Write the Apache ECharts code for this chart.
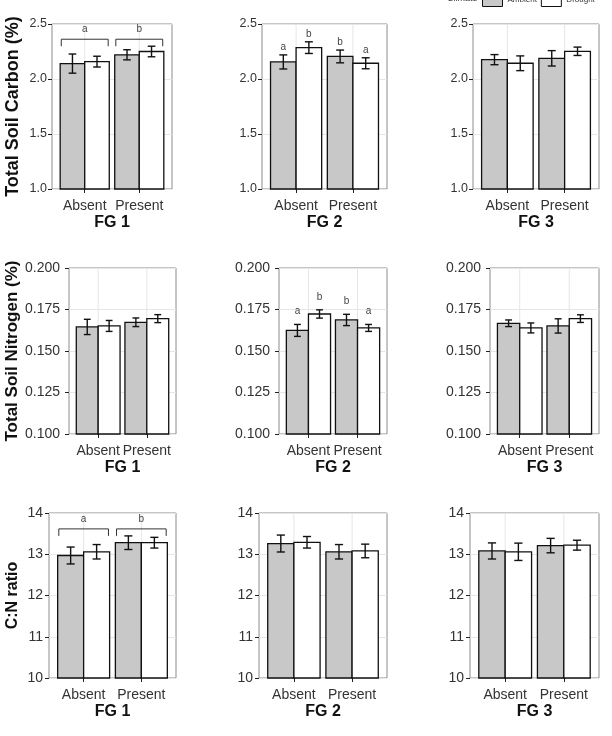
<!DOCTYPE html>
<html>
<head>
<meta charset="utf-8">
<script src="https://cdn.jsdelivr.net/npm/echarts@6/dist/echarts.min.js"></script>
<style>html,body{margin:0;padding:0;background:#fff;}#c{width:612px;height:736px;}</style>
</head>
<body>
<div id="c"></div>
<script>
// ---- data ----
const groups = ['Absent', 'Present'];
const fgNames = ['FG 1', 'FG 2', 'FG 3'];
const climates = ['Ambient', 'Drought'];

// [FG][group]
const carbonAmbient    = [[2.140, 2.220], [2.155, 2.205], [2.176, 2.188]];
const carbonAmbientSE  = [[0.087, 0.046], [0.064, 0.058], [0.046, 0.070]];
const carbonDrought    = [[2.158, 2.250], [2.285, 2.143], [2.143, 2.252]];
const carbonDroughtSE  = [[0.049, 0.048], [0.053, 0.050], [0.067, 0.038]];

const nitrogenAmbient   = [[0.1645, 0.1673], [0.1624, 0.1687], [0.1667, 0.1651]];
const nitrogenAmbientSE = [[0.0046, 0.0026], [0.0036, 0.0034], [0.0020, 0.0043]];
const nitrogenDrought   = [[0.1651, 0.1695], [0.1723, 0.1639], [0.1639, 0.1695]];
const nitrogenDroughtSE = [[0.0033, 0.0024], [0.0025, 0.0021], [0.0030, 0.0023]];

const cnAmbient   = [[12.97, 13.28], [13.26, 13.06], [13.08, 13.21]];
const cnAmbientSE = [[0.205, 0.165], [0.205, 0.175], [0.195, 0.175]];
const cnDrought   = [[13.06, 13.28], [13.29, 13.08], [13.06, 13.22]];
const cnDroughtSE = [[0.175, 0.130], [0.140, 0.165], [0.210, 0.120]];

// significance letters
const carbonGroupLetters = [['a', 'b'], null, null];              // bracket per group
const carbonBarLetters   = [null, [['a', 'b'], ['b', 'a']], null]; // [group][climate]
const nitrogenBarLetters = [null, [['a', 'b'], ['b', 'a']], null];
const cnGroupLetters     = [['a', 'b'], null, null];

const carbonTicks   = [1.0, 2.5, 0.5];
const nitrogenTicks = [0.100, 0.200, 0.025];
const cnTicks       = [10, 14, 1];

// ---- layout / style ----
const rowDefs = [
  { title: 'Total Soil Carbon (%)', ticks: carbonTicks, digits: 1,
    amb: carbonAmbient, ambSE: carbonAmbientSE, dr: carbonDrought, drSE: carbonDroughtSE,
    groupLetters: carbonGroupLetters, barLetters: carbonBarLetters,
    top: 24, height: 165, lefts: [52, 262, 473], widths: [120, 125, 126],
    nameGap: 30, titleSize: 18, labelSize: 12.5, labelMargin: 5, letterOff: 8 },
  { title: 'Total Soil Nitrogen (%)', ticks: nitrogenTicks, digits: 3,
    amb: nitrogenAmbient, ambSE: nitrogenAmbientSE, dr: nitrogenDrought, drSE: nitrogenDroughtSE,
    groupLetters: [null, null, null], barLetters: nitrogenBarLetters,
    top: 268, height: 166, lefts: [69, 279, 490], widths: [107, 108, 109],
    nameGap: 47, titleSize: 17, labelSize: 14, labelMargin: 9, letterOff: 13 },
  { title: 'C:N ratio', ticks: cnTicks, digits: 0,
    amb: cnAmbient, ambSE: cnAmbientSE, dr: cnDrought, drSE: cnDroughtSE,
    groupLetters: cnGroupLetters, barLetters: [null, null, null],
    top: 513, height: 165, lefts: [49, 259, 470], widths: [127, 128, 129],
    nameGap: 28, titleSize: 16, labelSize: 14, labelMargin: 6, letterOff: 8 }
];

const FONT = 'Liberation Sans, Arial, sans-serif';
const fills = ['#c8c8c8', '#ffffff'];
const HALF = 0.225;
const grids = [], xAxes = [], yAxes = [], series = [];

rowDefs.forEach((row, r) => {
  const yMin = row.ticks[0], yMax = row.ticks[1];
  for (let c = 0; c < 3; c++) {
    const gi = r * 3 + c;
    grids.push({ left: row.lefts[c], top: row.top, width: row.widths[c], height: row.height,
      show: true, borderColor: '#8c8c8c', borderWidth: 1, backgroundColor: 'transparent' });
    xAxes.push({
      type: 'value', gridIndex: gi, min: 0.4, max: 2.6,
      axisLine: { show: false },
      axisTick: { show: true, customValues: [1, 2], length: 4, lineStyle: { color: '#222', width: 1 } },
      axisLabel: { customValues: [1, 2], formatter: v => groups[Math.round(v) - 1], fontFamily: FONT, fontSize: 14, color: '#333', margin: 10 },
      splitLine: { show: false },
      name: fgNames[c], nameLocation: 'middle', nameGap: 26,
      nameTextStyle: { fontFamily: FONT, fontWeight: 'bold', fontSize: 16, color: '#111' }
    });
    yAxes.push({
      type: 'value', gridIndex: gi, min: yMin, max: yMax, interval: row.ticks[2],
      axisLine: { show: false },
      axisTick: { show: true, length: 4, lineStyle: { color: '#222', width: 1 } },
      axisLabel: { formatter: v => v.toFixed(row.digits), fontFamily: FONT, fontSize: row.labelSize, color: '#333', margin: row.labelMargin },
      splitLine: { show: true, lineStyle: { color: '#e6e6e6', width: 1 } },
      name: c === 0 ? row.title : '', nameLocation: 'middle', nameGap: row.nameGap, nameRotate: 90,
      nameTextStyle: { fontFamily: FONT, fontWeight: 'bold', fontSize: row.titleSize, color: '#111' }
    });

    // vertical grid lines at category positions
    series.push({
      type: 'custom', xAxisIndex: gi, yAxisIndex: gi, z: 1, silent: true,
      data: [[1], [2]],
      renderItem: (p, api) => {
        const a = api.coord([api.value(0), yMin]), b = api.coord([api.value(0), yMax]);
        return { type: 'line', shape: { x1: a[0], y1: a[1], x2: b[0], y2: b[1] }, style: { stroke: '#e6e6e6', lineWidth: 1 } };
      }
    });

    const means = [row.amb[c], row.dr[c]];
    const ses = [row.ambSE[c], row.drSE[c]];
    const barL = row.barLetters[c];
    for (let k = 0; k < 2; k++) {
      const data = groups.map((g, j) => [j + 1, means[k][j], ses[k][j], k, barL ? barL[j][k] : '']);
      series.push({
        type: 'custom', name: climates[k], xAxisIndex: gi, yAxisIndex: gi, z: 3,
        itemStyle: { color: fills[k], borderColor: '#111', borderWidth: 1 },
        data: data,
        renderItem: (p, api) => {
          const x = api.value(0), m = api.value(1), se = api.value(2), kk = api.value(3);
          const cx = x + (kk === 0 ? -HALF : HALF);
          const tl = api.coord([cx - HALF, m]), br = api.coord([cx + HALF, yMin]);
          const top = api.coord([cx, m + se]), bot = api.coord([cx, m - se]);
          const capW = api.size([0.07, 0])[0];
          const children = [
            { type: 'rect', shape: { x: tl[0], y: tl[1], width: br[0] - tl[0], height: br[1] - tl[1] },
              style: { fill: fills[kk], stroke: '#111', lineWidth: 1.3 } },
            { type: 'line', shape: { x1: top[0], y1: top[1], x2: bot[0], y2: bot[1] }, style: { stroke: '#111', lineWidth: 1.4 } },
            { type: 'line', shape: { x1: top[0] - capW, y1: top[1], x2: top[0] + capW, y2: top[1] }, style: { stroke: '#111', lineWidth: 1.4 } },
            { type: 'line', shape: { x1: bot[0] - capW, y1: bot[1], x2: bot[0] + capW, y2: bot[1] }, style: { stroke: '#111', lineWidth: 1.4 } }
          ];
          const letter = data[p.dataIndex][4];
          if (letter) {
            children.push({ type: 'text', style: { text: letter, x: top[0], y: top[1] - row.letterOff,
              align: 'center', verticalAlign: 'middle', fill: '#444', fontSize: 10, fontFamily: FONT } });
          }
          return { type: 'group', children };
        }
      });
    }

    // brackets for group-level letters
    const gl = row.groupLetters[c];
    if (gl) {
      let maxTop = -Infinity;
      for (let k = 0; k < 2; k++) for (let j = 0; j < 2; j++) maxTop = Math.max(maxTop, means[k][j] + ses[k][j]);
      const bdata = groups.map((g, j) => [j + 1, maxTop, gl[j]]);
      series.push({
        type: 'custom', xAxisIndex: gi, yAxisIndex: gi, z: 4, silent: true,
        data: bdata,
        renderItem: (p, api) => {
          const x = api.value(0);
          const base = api.coord([x, api.value(1)]);
          const l = api.coord([x - 0.43, api.value(1)])[0], rr = api.coord([x + 0.43, api.value(1)])[0];
          const yb = base[1] - 7;
          return { type: 'group', children: [
            { type: 'polyline', shape: { points: [[l, yb + 7], [l, yb], [rr, yb], [rr, yb + 7]] }, style: { stroke: '#333', lineWidth: 1, fill: null } },
            { type: 'text', style: { text: bdata[p.dataIndex][2], x: base[0], y: yb - 10, align: 'center', verticalAlign: 'middle', fill: '#444', fontSize: 10, fontFamily: FONT } }
          ] };
        }
      });
    }
  }
});

const chart = echarts.init(document.getElementById('c'), null, { renderer: 'canvas' });
chart.setOption({
  backgroundColor: '#fff',
  animation: false,
  legend: {
    data: climates, left: 482, top: -8, padding: 0, itemWidth: 20, itemHeight: 14, itemGap: 4,
    icon: 'rect', itemStyle: { borderColor: '#111', borderWidth: 1 },
    textStyle: { fontFamily: FONT, fontSize: 8, color: '#333' }
  },
  graphic: [{ type: 'text', x: 447, y: -6, style: { text: 'Climate', fontFamily: FONT, fontSize: 9, fill: '#333' } }],
  grid: grids, xAxis: xAxes, yAxis: yAxes, series: series
});
</script>
</body>
</html>
